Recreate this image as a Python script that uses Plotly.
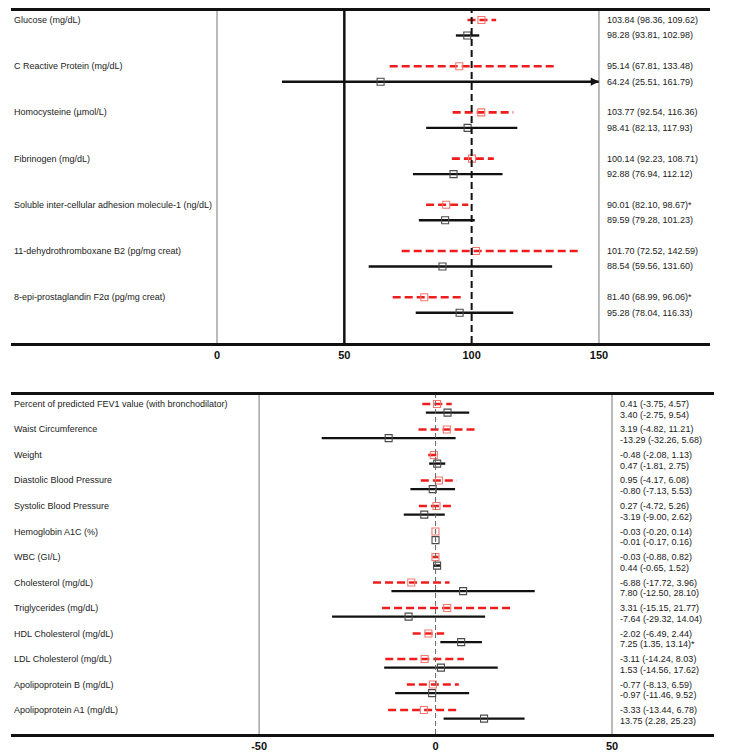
import plotly.graph_objects as go

# ---------------- data ----------------
top_labels = ["Glucose (mg/dL)", "C Reactive Protein (mg/dL)", "Homocysteine (µmol/L)",
              "Fibrinogen (mg/dL)", "Soluble inter-cellular adhesion molecule-1 (ng/dL)",
              "11-dehydrothromboxane B2 (pg/mg creat)", "8-epi-prostaglandin F2α (pg/mg creat)"]
top_red_est = [103.84, 95.14, 103.77, 100.14, 90.01, 101.70, 81.40]
top_red_lo = [98.36, 67.81, 92.54, 92.23, 82.10, 72.52, 68.99]
top_red_hi = [109.62, 133.48, 116.36, 108.71, 98.67, 142.59, 96.06]
top_red_sig = ["", "", "", "", "*", "", "*"]
top_blk_est = [98.28, 64.24, 98.41, 92.88, 89.59, 88.54, 95.28]
top_blk_lo = [93.81, 25.51, 82.13, 76.94, 79.28, 59.56, 78.04]
top_blk_hi = [102.98, 161.79, 117.93, 112.12, 101.23, 131.60, 116.33]
top_blk_sig = ["", "", "", "", "", "", ""]
top_ticks = [0, 50, 100, 150]

bot_labels = ["Percent of predicted FEV1 value (with bronchodilator)", "Waist Circumference", "Weight",
              "Diastolic Blood Pressure", "Systolic Blood Pressure", "Hemoglobin A1C (%)", "WBC (GI/L)",
              "Cholesterol (mg/dL)", "Triglycerides (mg/dL)", "HDL Cholesterol (mg/dL)",
              "LDL Cholesterol (mg/dL)", "Apolipoprotein B (mg/dL)", "Apolipoprotein A1 (mg/dL)"]
bot_red_est = [0.41, 3.19, -0.48, 0.95, 0.27, -0.03, -0.03, -6.88, 3.31, -2.02, -3.11, -0.77, -3.33]
bot_red_lo = [-3.75, -4.82, -2.08, -4.17, -4.72, -0.20, -0.88, -17.72, -15.15, -6.49, -14.24, -8.13, -13.44]
bot_red_hi = [4.57, 11.21, 1.13, 6.08, 5.26, 0.14, 0.82, 3.96, 21.77, 2.44, 8.03, 6.59, 6.78]
bot_red_sig = [""] * 13
bot_blk_est = [3.40, -13.29, 0.47, -0.80, -3.19, -0.01, 0.44, 7.80, -7.64, 7.25, 1.53, -0.97, 13.75]
bot_blk_lo = [-2.75, -32.26, -1.81, -7.13, -9.00, -0.17, -0.65, -12.50, -29.32, 1.35, -14.56, -11.46, 2.28]
bot_blk_hi = [9.54, 5.68, 2.75, 5.53, 2.62, 0.16, 1.52, 28.10, 14.04, 13.14, 17.62, 9.52, 25.23]
bot_blk_sig = ["", "", "", "", "", "", "", "", "", "*", "", "", ""]
bot_ticks = [-50, 0, 50]

# ---------------- styling / layout ----------------
W, H = 734, 756
OFF = 8  # page body margin
RED = "#ee1c1c"
RED_MK = "#f07a70"
BLK = "#111111"
BLK_MK = "#4a4a4a"
FONT = "Liberation Sans, Arial, sans-serif"


def xdom(a, b):
    return [(a - OFF) / W, (b - OFF) / W]


def ydom(top, bot):
    return [1 - (bot - OFF) / H, 1 - (top - OFF) / H]


fig = go.Figure()


def fmt(e, lo, hi, s):
    return f"{e:.2f} ({lo:.2f}, {hi:.2f}){s}"


def add_panel(xa, ya, labels, r_est, r_lo, r_hi, r_sig, b_est, b_lo, b_hi, b_sig,
              clip_hi, boff, btoff, txt_x):
    n = len(labels)
    rows = list(range(n))
    rx, ry, bx, by = [], [], [], []
    arrows = []
    for i in rows:
        rx += [r_lo[i], min(r_hi[i], clip_hi), None]
        ry += [i, i, None]
        bx += [b_lo[i], min(b_hi[i], clip_hi), None]
        by += [i + boff, i + boff, None]
        if b_hi[i] > clip_hi:
            arrows.append(i + boff)
    fig.add_trace(go.Scatter(x=rx, y=ry, mode="lines", xaxis=xa, yaxis=ya,
                             line=dict(color=RED, width=2.6, dash="8px,4px"), hoverinfo="skip"))
    fig.add_trace(go.Scatter(x=bx, y=by, mode="lines", xaxis=xa, yaxis=ya,
                             line=dict(color=BLK, width=2.4), hoverinfo="skip"))
    fig.add_trace(go.Scatter(x=r_est, y=rows, mode="markers", xaxis=xa, yaxis=ya,
                             marker=dict(symbol="square-open", size=7, color=RED_MK,
                                         line=dict(width=1.1, color=RED_MK))))
    fig.add_trace(go.Scatter(x=b_est, y=[i + boff for i in rows], mode="markers", xaxis=xa, yaxis=ya,
                             marker=dict(symbol="square-open", size=7, color=BLK_MK,
                                         line=dict(width=1.1, color=BLK_MK))))
    for yv in arrows:
        fig.add_annotation(x=clip_hi, y=yv, ax=clip_hi - 4, ay=yv, xref=xa, yref=ya,
                           axref=xa, ayref=ya, text="", showarrow=True, arrowhead=2,
                           arrowsize=0.75, arrowwidth=2.2, arrowcolor=BLK)
    for i in rows:
        fig.add_annotation(x=(12 - OFF) / W, xref="paper", y=i, yref=ya, text=labels[i],
                           xanchor="left", showarrow=False,
                           font=dict(family=FONT, size=9, color="#222"))
        fig.add_annotation(x=txt_x, xref=xa, y=i, yref=ya,
                           text=fmt(r_est[i], r_lo[i], r_hi[i], r_sig[i]),
                           xanchor="left", showarrow=False,
                           font=dict(family=FONT, size=9, color="#1a1a1a"))
        fig.add_annotation(x=txt_x, xref=xa, y=i + btoff, yref=ya,
                           text=fmt(b_est[i], b_lo[i], b_hi[i], b_sig[i]),
                           xanchor="left", showarrow=False,
                           font=dict(family=FONT, size=9, color="#1a1a1a"))


add_panel("x", "y", top_labels, top_red_est, top_red_lo, top_red_hi, top_red_sig,
          top_blk_est, top_blk_lo, top_blk_hi, top_blk_sig,
          clip_hi=top_ticks[-1], boff=0.335, btoff=0.335, txt_x=152.4)
add_panel("x2", "y2", bot_labels, bot_red_est, bot_red_lo, bot_red_hi, bot_red_sig,
          bot_blk_est, bot_blk_lo, bot_blk_hi, bot_blk_sig,
          clip_hi=1e9, boff=0.337, btoff=0.43, txt_x=51.7)

shapes = [
    dict(type="line", xref="x", yref="y domain", x0=top_ticks[0], x1=top_ticks[0], y0=0, y1=1,
         line=dict(color="#777", width=1)),
    dict(type="line", xref="x", yref="y domain", x0=top_ticks[3], x1=top_ticks[3], y0=0, y1=1,
         line=dict(color="#777", width=1)),
    dict(type="line", xref="x", yref="y domain", x0=top_ticks[1], x1=top_ticks[1], y0=0, y1=1,
         line=dict(color=BLK, width=2.5)),
    dict(type="line", xref="x", yref="y domain", x0=top_ticks[2], x1=top_ticks[2], y0=0, y1=1,
         line=dict(color=BLK, width=2, dash="7px,4px")),
    dict(type="line", xref="x2", yref="y2 domain", x0=bot_ticks[0], x1=bot_ticks[0], y0=0, y1=1,
         line=dict(color="#777", width=1)),
    dict(type="line", xref="x2", yref="y2 domain", x0=bot_ticks[2], x1=bot_ticks[2], y0=0, y1=1,
         line=dict(color="#777", width=1)),
    dict(type="line", xref="x2", yref="y2 domain", x0=bot_ticks[1], x1=bot_ticks[1], y0=0, y1=1,
         line=dict(color="#666", width=1, dash="5px,3px")),
]

# row pixel geometry (screen px): top panel rows start at 20, step 46.2; bottom at 404, step 25.5
top_y0, top_dy, top_t, top_b = 20, 46.2, 11, 343
bot_y0, bot_dy, bot_t, bot_b = 404, 25.5, 395, 734

tick_font = dict(family=FONT, size=11, color="#111")
fig.update_layout(
    width=W, height=H, margin=dict(l=0, r=0, t=0, b=0),
    paper_bgcolor="white", plot_bgcolor="white", showlegend=False,
    shapes=shapes,
    xaxis=dict(domain=xdom(11, 710), range=[-80.9, 193.6], showgrid=False, zeroline=False,
               showline=True, mirror=True, linewidth=3, linecolor=BLK,
               tickvals=top_ticks, ticktext=[f"<b>{t}</b>" for t in top_ticks],
               ticks="", tickfont=tick_font, anchor="y"),
    yaxis=dict(domain=ydom(top_t, top_b),
               range=[(top_b - top_y0) / top_dy, (top_t - top_y0) / top_dy],
               showgrid=False, zeroline=False, showticklabels=False, showline=False, anchor="x"),
    xaxis2=dict(domain=xdom(11, 714), range=[-120.3, 78.9], showgrid=False, zeroline=False,
                showline=True, mirror=True, linewidth=3, linecolor=BLK,
                tickvals=bot_ticks, ticktext=[f"<b>{t}</b>" for t in bot_ticks],
                ticks="", tickfont=tick_font, anchor="y2"),
    yaxis2=dict(domain=ydom(bot_t, bot_b),
                range=[(bot_b - bot_y0) / bot_dy, (bot_t - bot_y0) / bot_dy],
                showgrid=False, zeroline=False, showticklabels=False, showline=False, anchor="x2"),
)

fig.write_html("out.html")
